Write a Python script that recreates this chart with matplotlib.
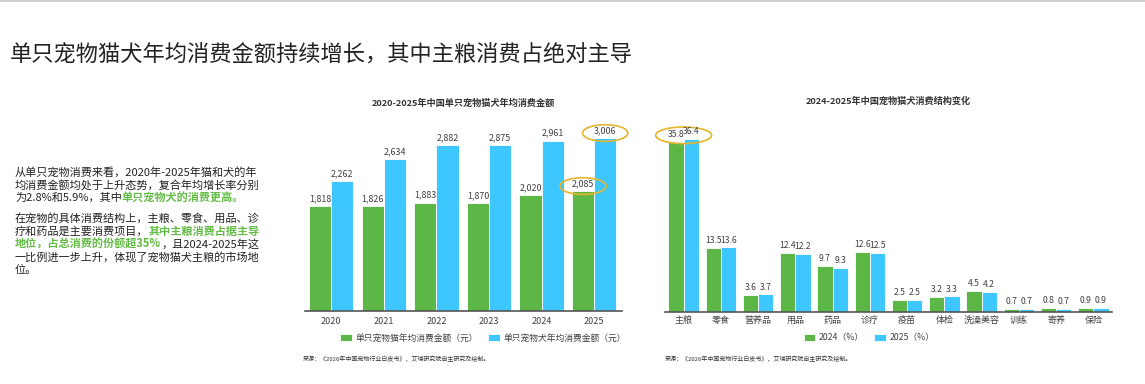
import matplotlib
matplotlib.use('Agg')
import matplotlib.pyplot as plt
from matplotlib.patches import Ellipse
import numpy as np

plt.rcParams['font.family'] = ['Noto Sans CJK SC', 'DejaVu Sans']

# data
years = ['2020', '2021', '2022', '2023', '2024', '2025']
cat_spend = [1818, 1826, 1883, 1870, 2020, 2085]
dog_spend = [2262, 2634, 2882, 2875, 2961, 3006]

items = ['主粮', '零食', '营养品', '用品', '药品', '诊疗', '疫苗', '体检', '洗澡美容', '训练', '寄养', '保险']
share_2024 = [35.8, 13.5, 3.6, 12.4, 9.7, 12.6, 2.5, 3.2, 4.5, 0.7, 0.8, 0.9]
share_2025 = [36.4, 13.6, 3.7, 12.2, 9.3, 12.5, 2.5, 3.3, 4.2, 0.7, 0.7, 0.9]

GREEN = '#5DB746'
BLUE = '#3EC7FF'
TXT = '#222222'
HL = '#62BC45'
GOLD = '#E6B52C'

W, H = 1145, 384
fig = plt.figure(figsize=(W / 100, H / 100), dpi=100)


def fx(px):
    return px / W


def fy(py):
    return 1 - py / H


# thin grey line at the very top
fig.add_artist(plt.Line2D([0, 1], [fy(0.5), fy(0.5)], color='#d0d0d0', lw=1.5))

fig.text(fx(10), fy(55), '单只宠物猫犬年均消费金额持续增长，其中主粮消费占绝对主导',
         fontsize=16, color='#222222', va='center', ha='left')

# left paragraph with coloured segments
renderer = fig.canvas.get_renderer()
lines = [
    (172, [('从单只宠物消费来看，2020年-2025年猫和犬的年', False)]),
    (185, [('均消费金额均处于上升态势，复合年均增长率分别', False)]),
    (198, [('为2.8%和5.9%，其中', False), ('单只宠物犬的消费更高。', True)]),
    (218, [('在宠物的具体消费结构上，主粮、零食、用品、诊', False)]),
    (231, [('疗和药品是主要消费项目，', False), ('其中主粮消费占据主导', True)]),
    (244, [('地位，占总消费的份额超35%', True), ('，且2024-2025年这', False)]),
    (257, [('一比例进一步上升，体现了宠物猫犬主粮的市场地', False)]),
    (270, [('位。', False)]),
]
for ypx, segs in lines:
    x = fx(15)
    for s, hl in segs:
        t = fig.text(x, fy(ypx), s, fontsize=8.0, va='center', ha='left',
                     color=HL if hl else TXT, fontweight='bold' if hl else 'normal')
        bb = t.get_window_extent(renderer)
        x += bb.width / W

# ---- left chart ----
ax1 = fig.add_axes([fx(305), fy(311), fx(622) - fx(305), (311 - 121) / H])
x1 = np.arange(len(years))
bw = 0.42
ax1.bar(x1 - bw / 2, cat_spend, bw, color=GREEN, edgecolor='white', linewidth=0.6,
        label='单只宠物猫年均消费金额（元）')
ax1.bar(x1 + bw / 2, dog_spend, bw, color=BLUE, edgecolor='white', linewidth=0.6,
        label='单只宠物犬年均消费金额（元）')
for i in range(len(years)):
    ax1.annotate(f'{cat_spend[i]:,}', (x1[i] - bw / 2, cat_spend[i]), xytext=(0, 2),
                 textcoords='offset points', ha='center', va='bottom', fontsize=6.4, color='#404040')
    ax1.annotate(f'{dog_spend[i]:,}', (x1[i] + bw / 2, dog_spend[i]), xytext=(0, 2),
                 textcoords='offset points', ha='center', va='bottom', fontsize=6.4, color='#404040')
ax1.set_xlim(-0.5, 5.53)
ax1.set_ylim(0, 3300)
ax1.set_xticks(x1)
ax1.set_xticklabels(years, fontsize=6.5, color='#404040')
ax1.set_yticks([])
for sp in ['top', 'right', 'left']:
    ax1.spines[sp].set_visible(False)
ax1.spines['bottom'].set_color('#555555')
ax1.spines['bottom'].set_linewidth(1.2)
ax1.tick_params(axis='x', length=0, pad=4)
ax1.set_title('2020-2025年中国单只宠物猫犬年均消费金额', fontsize=6.6, fontweight='bold',
              color='#333333', pad=11)
# highlight ellipses
ax1.add_patch(Ellipse((5 + bw / 2, dog_spend[5] + 85), 0.86, 290, fill=False,
                      edgecolor=GOLD, lw=1.2, clip_on=False))
ax1.add_patch(Ellipse((5 - bw / 2, cat_spend[5] + 85), 0.88, 290, fill=False,
                      edgecolor=GOLD, lw=1.2, clip_on=False))
ax1.legend(loc='center', bbox_to_anchor=(fx(483), fy(338)), bbox_transform=fig.transFigure,
           ncol=2, frameon=False, fontsize=6.3, handlelength=1.3, handleheight=0.9,
           columnspacing=1.2, handletextpad=0.4, labelcolor='#404040')

# ---- right chart ----
ax2 = fig.add_axes([fx(665), fy(312), fx(1112) - fx(665), (312 - 122) / H])
x2 = np.arange(len(items))
bw2 = 0.41
ax2.bar(x2 - bw2 / 2, share_2024, bw2, color=GREEN, edgecolor='white', linewidth=0.6, label='2024（%）')
ax2.bar(x2 + bw2 / 2, share_2025, bw2, color=BLUE, edgecolor='white', linewidth=0.6, label='2025（%）')
for i in range(len(items)):
    ax2.annotate(f'{share_2024[i]}', (x2[i] - bw2 / 2, share_2024[i]), xytext=(0, 2),
                 textcoords='offset points', ha='center', va='bottom', fontsize=6.2, color='#404040')
    ax2.annotate(f'{share_2025[i]}', (x2[i] + bw2 / 2, share_2025[i]), xytext=(0, 2),
                 textcoords='offset points', ha='center', va='bottom', fontsize=6.2, color='#404040')
ax2.set_xlim(-0.5, 11.5)
ax2.set_ylim(0, 40)
ax2.set_xticks(x2)
ax2.set_xticklabels(items, fontsize=6.5, color='#404040')
ax2.set_yticks([])
for sp in ['top', 'right', 'left']:
    ax2.spines[sp].set_visible(False)
ax2.spines['bottom'].set_color('#555555')
ax2.spines['bottom'].set_linewidth(1.2)
ax2.tick_params(axis='x', length=0, pad=3)
ax2.set_title('2024-2025年中国宠物猫犬消费结构变化', fontsize=6.6, fontweight='bold',
              color='#333333', pad=13)
ax2.add_patch(Ellipse((0, share_2025[0] + 0.8), 1.5, 3.5, fill=False,
                      edgecolor=GOLD, lw=1.2, clip_on=False))
ax2.legend(loc='center', bbox_to_anchor=(fx(869), fy(338)), bbox_transform=fig.transFigure,
           ncol=2, frameon=False, fontsize=6.3, handlelength=1.3, handleheight=0.9,
           columnspacing=1.2, handletextpad=0.4, labelcolor='#404040')

src = '来源：《2026年中国宠物行业白皮书》，艾瑞研究院自主研究及绘制。'
fig.text(fx(303), fy(359), src, fontsize=4.3, color='#333333', va='center', ha='left')
fig.text(fx(665), fy(359), src, fontsize=4.3, color='#333333', va='center', ha='left')

fig.savefig('out.png', dpi=100)
